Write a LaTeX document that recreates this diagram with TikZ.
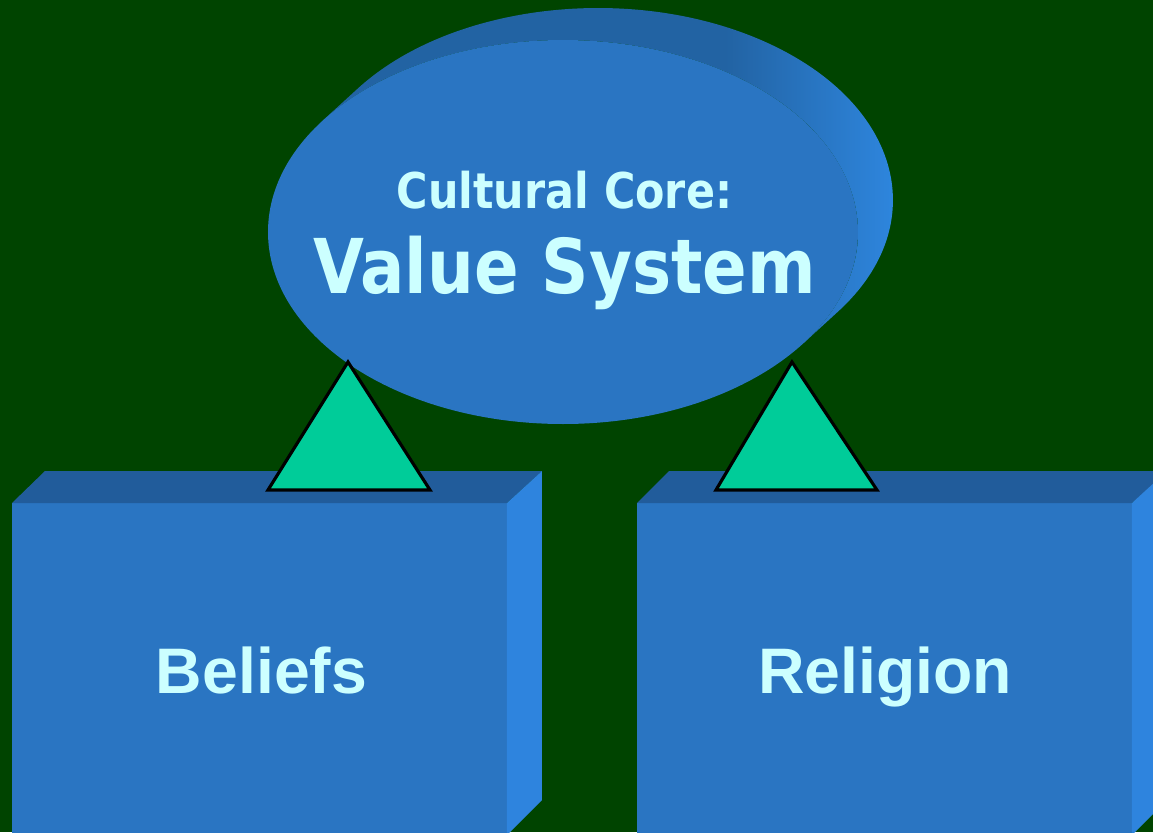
\documentclass[tikz,border=0pt]{standalone}
\usepackage{fontspec}
\newfontfamily\vfont[FakeStretch=0.87]{DejaVu Sans}
\newfontfamily\afont{Liberation Sans}
\definecolor{bg}{HTML}{004400}
\definecolor{front}{HTML}{2A75C2}
\definecolor{topface}{HTML}{215C9B}
\definecolor{sideface}{HTML}{2E84DE}
\definecolor{extdk}{HTML}{2263A3}
\definecolor{extlt}{HTML}{2E86DE}
\definecolor{txt}{HTML}{CCFFFF}
\definecolor{tri}{HTML}{00CC99}
\pgfdeclarehorizontalshading{extshade}{100bp}{color(0bp)=(extdk); color(58bp)=(extdk); color(72bp)=(extlt); color(100bp)=(extlt)}
\tikzset{
  frontface/.style={fill=front},
  topsurf/.style={fill=topface},
  sidesurf/.style={fill=sideface},
  arrowtri/.style={fill=tri, draw=black, line width=0.9pt, line join=miter},
  coretext/.style={text=txt, font=\vfont\bfseries, anchor=base, inner sep=0pt},
  boxtext/.style={text=txt, font=\afont\bfseries\fontsize{18.3}{22}\selectfont, anchor=base, inner sep=0pt},
}
\begin{document}
\begin{tikzpicture}[x=0.01cm,y=0.01cm]
\useasboundingbox (0,0) rectangle (1153,832);
\fill[bg] (0,0) rectangle (1153,832);
\begin{scope}
\clip (0,0) rectangle (1153,832);
% extruded ellipse
\shade[shading=extshade] (322.5,711.2) -- (357.5,743.2)
  arc[start angle=144.6, end angle=-35.4, x radius=295, y radius=192]
  -- (803.5,488.8)
  arc[start angle=-35.4, end angle=144.6, x radius=295, y radius=192] -- cycle;
\fill[frontface] (563,600) ellipse[x radius=295, y radius=192];
% left box
\fill[frontface] (12,-5) rectangle (507,329);
\fill[topsurf] (12,329) -- (45,361) -- (542,361) -- (507,329) -- cycle;
\fill[sidesurf] (507,329) -- (542,361) -- (542,32) -- (507,-3) -- cycle;
% right box
\fill[frontface] (637,-5) rectangle (1132,329);
\fill[topsurf] (637,329) -- (669,361) -- (1170,361) -- (1132,329) -- cycle;
\fill[sidesurf] (1132,329) -- (1167,361) -- (1167,32) -- (1132,-3) -- cycle;
\end{scope}
% triangles
\draw[arrowtri] (268,342) -- (348,470) -- (430,342) -- cycle;
\draw[arrowtri] (716,342) -- (792,470) -- (877,342) -- cycle;
% texts
\node[coretext, font=\vfont\bfseries\fontsize{14}{17}\selectfont] (core) at (564.5,624) {Cultural Core:};
\node[coretext, font=\vfont\bfseries\fontsize{21.5}{26}\selectfont] (value) at (564.5,539) {Value System};
\node[boxtext] (beliefs) at (261.5,139) {Beliefs};
\node[boxtext] (religion) at (885,139) {Religion};
\end{tikzpicture}
\end{document}
